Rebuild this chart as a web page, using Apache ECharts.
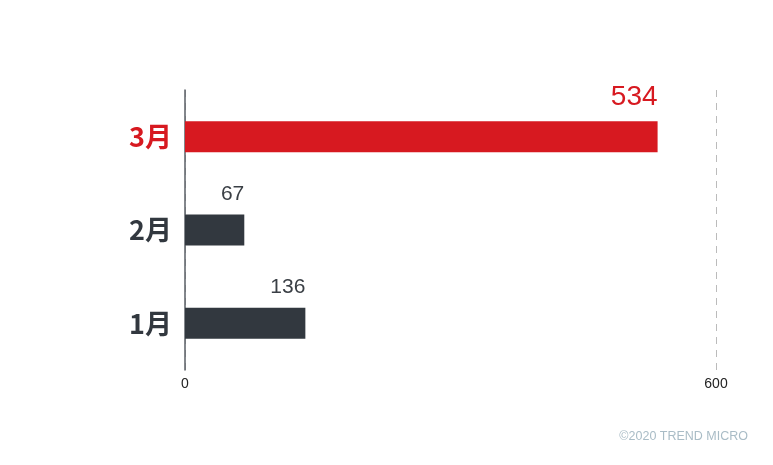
<!DOCTYPE html>
<html lang="zh">
<head>
    <meta charset="UTF-8">
    <title>月別</title>
    <style>
        body { margin: 0; padding: 0; background: #fff; }
        #chart { width: 773px; height: 465px; }
    </style>
</head>
<body>
<div id="chart"></div>
<script src="https://cdn.jsdelivr.net/npm/echarts@6/dist/echarts.min.js"></script>
<script>
    const months = ["1月", "2月", "3月"];
    const counts = [136, 67, 534];
    const xTicks = [0, 600];

    const red = "#d71920";
    const dark = "#32383f";

    const chart = echarts.init(document.getElementById("chart"));

    const option = {
        backgroundColor: "#fff",
        animation: false,
        grid: { left: 185, right: 57, top: 90, bottom: 95 },
        xAxis: {
            type: "value",
            min: xTicks[0],
            max: xTicks[1],
            interval: xTicks[1] - xTicks[0],
            axisLine: { show: false },
            axisTick: { show: false },
            axisLabel: {
                color: "#222",
                fontSize: 14,
                fontFamily: "Liberation Sans, Arial, sans-serif",
                margin: 7
            },
            splitLine: {
                show: true,
                lineStyle: { color: "#bbb", type: [7, 6], width: 1 }
            }
        },
        yAxis: {
            type: "category",
            data: months,
            axisLine: { show: true, lineStyle: { color: "#5a5f66", width: 1.5 } },
            axisTick: { show: false },
            axisLabel: {
                margin: 13,
                fontSize: 27,
                fontWeight: "bold",
                fontFamily: "Noto Sans CJK SC, sans-serif",
                color: (v) => (v === "3月" ? red : dark)
            }
        },
        series: [{
            type: "bar",
            barWidth: 31,
            data: counts.map((v, i) => {
                const hot = i === counts.length - 1;
                return {
                    value: v,
                    itemStyle: { color: hot ? red : dark },
                    label: {
                        color: hot ? red : "#3a3f45",
                        fontSize: hot ? 28 : 21
                    }
                };
            }),
            label: {
                show: true,
                position: ["100%", 0],
                align: "right",
                verticalAlign: "bottom",
                offset: [0, -10],
                fontFamily: "Liberation Sans, Arial, sans-serif"
            }
        }],
        graphic: [{
            type: "text",
            right: 25,
            top: 430,
            style: {
                text: "©2020 TREND MICRO",
                fill: "#a9bcc6",
                fontSize: 12.5,
                fontFamily: "Liberation Sans, Arial, sans-serif"
            }
        }]
    };

    chart.setOption(option);
</script>
</body>
</html>
